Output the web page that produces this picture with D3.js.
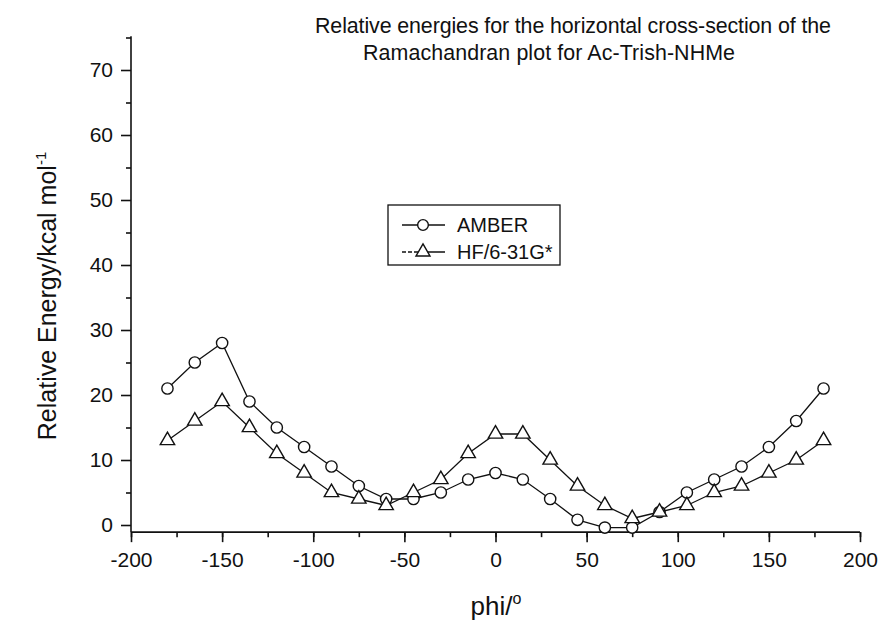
<!DOCTYPE html>
<html>
<head>
<meta charset="utf-8" />
<title>Relative energies - Ac-Trish-NHMe</title>
<script src="https://cdn.jsdelivr.net/npm/d3@7"></script>
<style>
body { margin: 0; background: #fff; }
svg text { font-family: "Liberation Sans", Arial, sans-serif; fill: #111; }
</style>
</head>
<body>
<svg id="chart" width="878" height="629"></svg>
<script>
// phi angles (degrees) of the cross-section
const phi = [-180, -165, -150, -135, -120, -105, -90, -75, -60, -45, -30, -15, 0,
             15, 30, 45, 60, 75, 90, 105, 120, 135, 150, 165, 180];
// relative energies, kcal/mol
const amber = [21, 25, 28, 19, 15, 12, 9, 6, 4, 4, 5, 7, 8,
               7, 4, 0.8, -0.4, -0.4, 2, 5, 7, 9, 12, 16, 21];
const hf = [13, 16, 19, 15, 11, 8, 5, 4, 3, 5, 7, 11, 14,
            14, 10, 6, 3, 1, 2, 3, 5, 6, 8, 10, 13];
const xTicks = [-200, -150, -100, -50, 0, 50, 100, 150, 200];
const yTicks = [0, 10, 20, 30, 40, 50, 60, 70];
const legendNames = ["AMBER", "HF/6-31G*"];

const svg = d3.select("#chart");

let x = d3.scaleLinear().domain([-200, 200]).range([131, 860]);
let y = d3.scaleLinear().domain([0, 70]).range([525, 70]);
const yBottom = -1.1, yTop = 75.2;

// axes
svg.append("g")
	.attr("transform", "translate(0," + y(yBottom) + ")")
	.call(d3.axisBottom(x).tickValues(d3.range(-200, 201, 25)).tickSize(5).tickFormat(""))
	.call(g => g.select(".domain").remove());
svg.append("g")
	.attr("class", "xaxis")
	.attr("transform", "translate(0," + y(yBottom) + ")")
	.call(d3.axisBottom(x).tickValues(xTicks).tickSize(10).tickPadding(10).tickFormat(d => String(d)))
	.call(g => g.select(".domain").attr("d", "M" + x(-200) + ",0H" + x(200)));
svg.append("g")
	.attr("transform", "translate(" + x(-200) + ",0)")
	.call(d3.axisLeft(y).tickValues(d3.range(5, 76, 10)).tickSize(5).tickFormat(""))
	.call(g => g.select(".domain").remove());
svg.append("g")
	.attr("class", "yaxis")
	.attr("transform", "translate(" + x(-200) + ",0)")
	.call(d3.axisLeft(y).tickValues(yTicks).tickSize(10).tickPadding(8))
	.call(g => g.select(".domain").attr("d", "M0," + y(yBottom) + "V" + y(yTop)));

svg.selectAll(".domain, .tick line").attr("stroke", "#111").attr("stroke-width", 1.6);
svg.selectAll(".tick text").attr("font-size", 21).attr("fill", "#111");

// series
function drawSeries(vals, shape) {
	let pts = phi.map((p, i) => [x(p), y(vals[i])]);
	svg.append("path")
		.attr("d", d3.line()(pts))
		.attr("fill", "none")
		.attr("stroke", "#111")
		.attr("stroke-width", 1.3);
	svg.append("g").selectAll("path")
		.data(pts)
		.enter()
		.append("path")
			.attr("transform", d => "translate(" + d[0] + "," + d[1] + ")")
			.attr("d", d3.symbol().type(shape).size(shape == d3.symbolCircle ? 100 : 90))
			.attr("fill", "#fff")
			.attr("stroke", "#111")
			.attr("stroke-width", 1.4);
}
drawSeries(amber, d3.symbolCircle);
drawSeries(hf, d3.symbolTriangle);

// legend
let lg = svg.append("g").attr("transform", "translate(388,205)");
lg.append("rect").attr("width", 172).attr("height", 60)
	.attr("fill", "#fff").attr("stroke", "#111").attr("stroke-width", 1.3);
[d3.symbolCircle, d3.symbolTriangle].forEach((s, i) => {
	let cy = 20 + i * 27;
	lg.append("line").attr("x1", 14).attr("x2", 57).attr("y1", cy).attr("y2", cy)
		.attr("stroke", "#111").attr("stroke-width", 1.4)
		.attr("stroke-dasharray", i == 1 ? "4,2,4,2,40,0" : null);
	lg.append("path").attr("transform", "translate(35," + cy + ")")
		.attr("d", d3.symbol().type(s).size(s == d3.symbolCircle ? 90 : 85))
		.attr("fill", "#fff").attr("stroke", "#111").attr("stroke-width", 1.4);
	lg.append("text").attr("x", 69).attr("y", cy + 7).attr("font-size", 20).text(legendNames[i]);
});

// title
let title = svg.append("text").attr("font-size", 21.4);
title.append("tspan").attr("x", 315).attr("y", 33).attr("textLength", 516)
	.text("Relative energies for the horizontal cross-section of the");
title.append("tspan").attr("x", 363).attr("y", 60).attr("textLength", 372)
	.text("Ramachandran plot for Ac-Trish-NHMe");

// axis titles
svg.append("text").attr("x", 496).attr("y", 615).attr("text-anchor", "middle").attr("font-size", 26)
	.html('phi/<tspan dy="-11" font-size="16">o</tspan>');
svg.append("text").attr("transform", "translate(56,296) rotate(-90)").attr("text-anchor", "middle").attr("font-size", 25)
	.html('Relative Energy/kcal mol<tspan dy="-10" font-size="15">-1</tspan>');
</script>
</body>
</html>
